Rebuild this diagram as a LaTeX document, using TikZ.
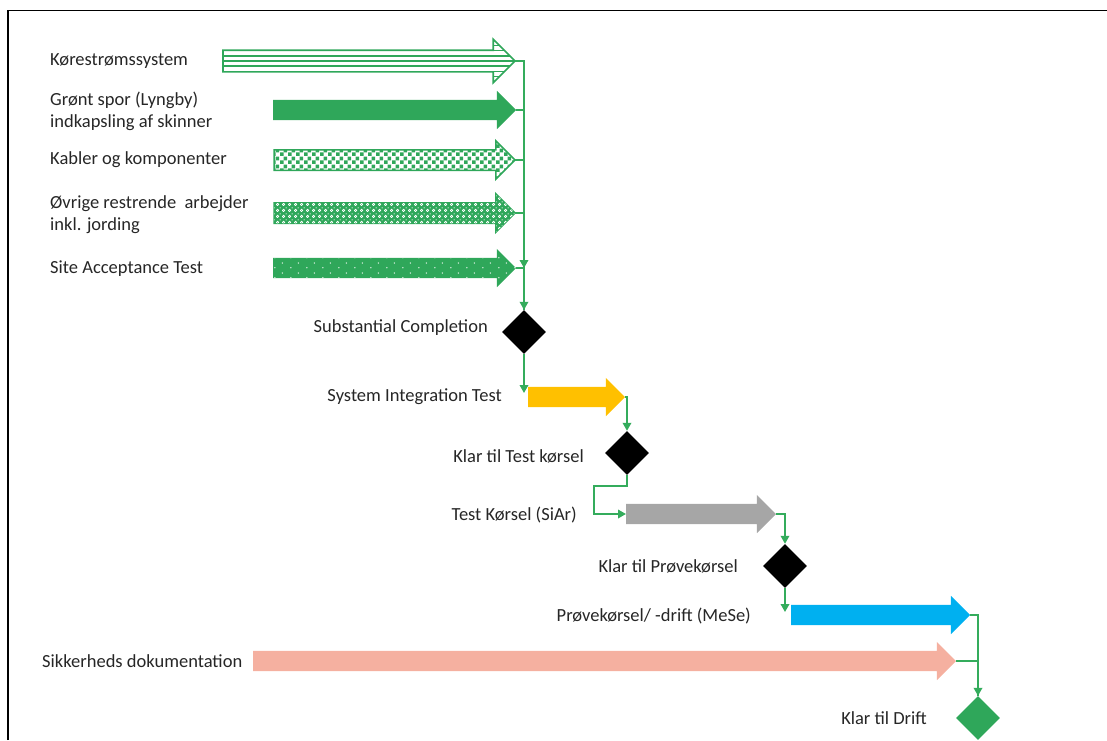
\documentclass[tikz,border=0pt]{standalone}
\usepackage{fontspec}
\setmainfont{Carlito}
\usetikzlibrary{shapes.arrows,shapes.geometric,arrows.meta,patterns.meta}
\definecolor{grn}{RGB}{47,167,90}
\definecolor{cgrn}{RGB}{52,172,92}
\definecolor{ylw}{RGB}{255,192,0}
\definecolor{gry}{RGB}{166,166,166}
\definecolor{blu}{RGB}{0,176,240}
\definecolor{slm}{RGB}{245,176,160}
\definecolor{txt}{RGB}{38,38,38}
\tikzdeclarepattern{
  name=checks, type=uncolored,
  bottom left={(0pt,0pt)}, top right={(8pt,8pt)}, tile size={(8pt,8pt)},
  code={\fill (0pt,0pt) rectangle (4pt,4pt); \fill (4pt,4pt) rectangle (8pt,8pt);}
}
\tikzdeclarepattern{
  name=rings, type=uncolored,
  bottom left={(0pt,0pt)}, top right={(6pt,6pt)}, tile size={(6pt,6pt)},
  code={\draw[line width=0.8pt] (1.8pt,1.8pt) circle (1.4pt); \fill (4.8pt,4.8pt) circle (0.7pt);}
}
\tikzdeclarepattern{
  name=sparsedots, type=uncolored,
  bottom left={(0pt,0pt)}, top right={(16pt,10pt)}, tile size={(16pt,10pt)},
  code={\fill (3pt,2.5pt) circle (0.8pt); \fill (11pt,7.5pt) circle (0.8pt);}
}
\tikzset{
  blk/.style={single arrow, anchor=tail, inner xsep=0pt, inner ysep=10pt, outer sep=0pt, draw=none,
    single arrow head extend=9pt},
  lbl/.style={font=\fontsize{18.5}{22}\selectfont, text=txt, inner sep=0pt, align=left},
  ms/.style={diamond, inner sep=0pt, minimum size=44pt, fill=black},
  conn/.style={draw=cgrn, line width=1.8pt},
  arr/.style={conn, -{Triangle[length=8pt,width=8.5pt]}},
  stripe/.style={draw=grn, line width=1.6pt},
}
\begin{document}
\begin{tikzpicture}[x=1pt,y=-1pt]
\useasboundingbox (0,0) rectangle (1107,740);
\draw[line width=1.5pt] (8,740) -- (8,10.5) -- (1107,10.5);

% task arrows
\node[blk, minimum height=292pt, inner ysep=10pt, single arrow head extend=11pt,
  fill=white, draw=grn, line width=1.6pt] (a1) at (223,61) {};
\begin{scope}
  \clip (223,51) -- (494,51) -- (494,40) -- (515,61) -- (494,82) -- (494,71) -- (223,71) -- cycle;
  \foreach \yy in {45.5,50.5,55.8,61,66.2,71.5,76.5}
    \draw[stripe] (223,\yy) -- (516,\yy);
\end{scope}
\node[blk, minimum height=243pt, fill=grn] (a2) at (273,110) {};
\node[blk, minimum height=241pt, inner ysep=9.5pt, fill=white, draw=grn, line width=1.5pt,
  postaction={pattern=checks, pattern color=grn}] (a3) at (274,160) {};
\node[blk, minimum height=241pt, inner ysep=9.5pt, fill=grn, draw=grn, line width=1.5pt,
  postaction={pattern=rings, pattern color=white}] (a4) at (274,213) {};
\node[blk, minimum height=243pt, fill=grn,
  postaction={pattern=sparsedots, pattern color=white!85!grn}] (a5) at (273,268) {};
\node[blk, minimum height=97pt, fill=ylw] (a6) at (528,397) {};
\node[blk, minimum height=150pt, fill=gry] (a7) at (626,514) {};
\node[blk, minimum height=179pt, fill=blu] (a8) at (791,615) {};
\node[blk, minimum height=703pt, fill=slm] (a9) at (253,661) {};

% milestones
\node[ms] (d1) at (524,332) {};
\node[ms] (d2) at (627,453) {};
\node[ms] (d3) at (785,566) {};
\node[ms, fill=grn] (d4) at (978,718) {};

% labels
\node[lbl, anchor=west] (t1) at (50,61) {Kørestrømssystem};
\node[lbl, anchor=west] (t2) at (50,111) {Grønt spor (Lyngby)\\indkapsling af skinner};
\node[lbl, anchor=west] (t3) at (50,160) {Kabler og komponenter};
\node[lbl, anchor=west] (t4) at (50,215) {Øvrige restrende\ \ arbejder\\inkl. jording};
\node[lbl, anchor=west] (t5) at (50,269) {Site Acceptance Test};
\node[lbl, anchor=east] (t6) at (488,328) {Substantial Completion};
\node[lbl, anchor=east] (t7) at (502,397) {System Integration Test};
\node[lbl, anchor=east] (t8) at (584,456) {Klar til Test kørsel};
\node[lbl, anchor=east] (t9) at (577,515) {Test Kørsel (SiAr)};
\node[lbl, anchor=east] (t10) at (738,566) {Klar til Prøvekørsel};
\node[lbl, anchor=east] (t11) at (751,616) {Prøvekørsel/ -drift (MeSe)};
\node[lbl, anchor=west] (t12) at (42,661) {Sikkerheds dokumentation};
\node[lbl, anchor=east] (t13) at (927,718) {Klar til Drift};

% connectors
\coordinate (j5) at (d1.north |- a5.tip);
\draw[arr] (a1.tip) -| (j5);
\draw[conn] (a2.tip) -| (d1.north);
\draw[conn] (a3.tip) -| (d1.north);
\draw[conn] (a4.tip) -| (d1.north);
\draw[arr] (a5.tip) -| (d1.north);
\coordinate (e6) at ([yshift=4pt]d1.south |- a6.tail);
\draw[arr] (d1.south) -- (e6);
\draw[arr] (a6.tip) -| (d2.north);
\coordinate (k7) at ([xshift=-32pt]a7.tail);
\draw[arr] (d2.south) -- ++(0,11) -| (k7) -- (a7.tail);
\draw[arr] (a7.tip) -| (d3.north);
\coordinate (e8) at ([yshift=3pt]d3.south |- a8.tail);
\draw[arr] (d3.south) -- (e8);
\draw[arr] (a8.tip) -| (d4.north);
\draw[conn] (a9.tip) -| (d4.north);
\end{tikzpicture}
\end{document}
